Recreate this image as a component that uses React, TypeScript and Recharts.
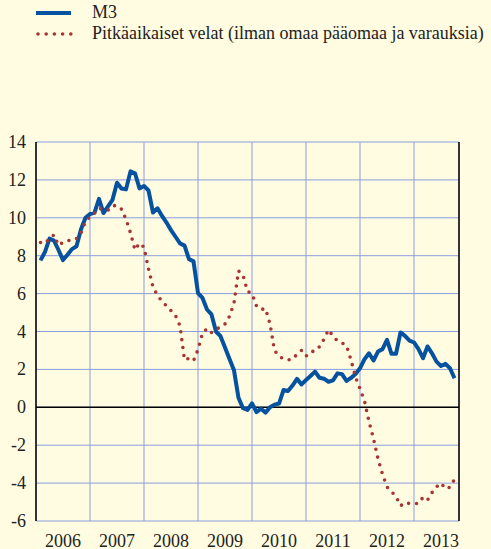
import { LineChart, Line, XAxis, YAxis, CartesianGrid, ReferenceLine } from 'recharts'

// monthly, Jan 2006 .. Sep 2013 (annual % change)
const m3Values = [
  7.75, 8.2, 8.9, 8.8, 8.3, 7.77, 8.05, 8.35, 8.5, 9.4, 10.0, 10.2,
  10.27, 11.0, 10.25, 10.6, 10.95, 11.85, 11.55, 11.5, 12.45, 12.35, 11.55, 11.68,
  11.44, 10.28, 10.5, 10.1, 9.75, 9.35, 9.0, 8.65, 8.53, 7.82, 7.7, 6.03,
  5.77, 5.16, 4.9, 4.0, 3.75, 3.15, 2.55, 1.95, 0.5, -0.05, -0.14, 0.21,
  -0.25, -0.07, -0.28, 0.0, 0.14, 0.2, 0.91, 0.86, 1.15, 1.5, 1.21, 1.44,
  1.65, 1.88, 1.56, 1.51, 1.35, 1.42, 1.79, 1.75, 1.39, 1.55, 1.76, 2.06,
  2.54, 2.85, 2.47, 2.94, 3.07, 3.56, 2.82, 2.82, 3.95, 3.77, 3.52, 3.42,
  3.07, 2.59, 3.21, 2.85, 2.41, 2.18, 2.29, 2.06, 1.53,
]

const longTermValues = [
  8.7, 8.65, 8.9, 9.1, 8.55, 8.7, 8.8, 8.8, 8.9, 9.2, 9.8, 10.05,
  10.25, 10.5, 10.45, 10.4, 10.64, 10.64, 10.45, 9.93, 9.2, 8.3, 8.66, 8.45,
  7.3, 6.35, 5.9, 5.6, 5.35, 5.1, 4.84, 4.3, 2.5, 2.58, 2.45, 3.05,
  3.9, 4.16, 3.95, 4.1, 4.25, 4.4, 4.8, 5.5, 7.2, 6.97, 6.12, 6.0,
  5.35, 5.16, 5.21, 4.4, 3.0, 2.7, 2.55, 2.5, 2.53, 2.8, 3.0, 2.7,
  2.93, 2.97, 3.2, 3.6, 4.09, 3.75, 3.5, 3.4, 3.25, 2.5, 1.6, 0.98,
  0.33, -0.75, -1.65, -2.72, -3.53, -4.2, -4.45, -4.7, -5.2, -5.03, -5.08, -5.08,
  -5.08, -4.75, -4.9, -4.5, -4.2, -4.0, -4.3, -4.22, -3.8,
]

const years = ['2006', '2007', '2008', '2009', '2010', '2011', '2012', '2013']
const yTicks = [-6, -4, -2, 0, 2, 4, 6, 8, 10, 12, 14]

const yearStarts = years.map((_, i) => i * 12)
const yearMids = years.map((_, i) => i * 12 + 6)

const data = m3Values.map((v, i) => ({
  t: i + 1,
  m3: v,
  lt: longTermValues[i],
}))

const BLUE = '#0552a0'
const RED = '#a83434'
const GRID = '#8a9ee0'
const TEXT = '#222'
const FONT = '"Liberation Serif", "Times New Roman", serif'

const textStyle = { fontFamily: FONT, fontSize: 18, fill: TEXT }

// tick mark below the axis at each year boundary
const YearMark = (p: any) => (
  <line x1={p.x} x2={p.x} y1={p.y - 5} y2={p.y} stroke="#000" strokeWidth={1.3} />
)

const YearLabel = (p: any) => (
  <text x={p.x} y={p.y} dy={25.5} textAnchor="middle" style={textStyle}>
    {years[(p.payload.value - 6) / 12]}
  </text>
)

const LeftTick = (p: any) => (
  <text x={p.x} y={p.y} dy={6} textAnchor="end" style={textStyle}>
    {p.payload.value}
  </text>
)

const RightTick = (p: any) => (
  <text x={p.x} y={p.y} dy={6} dx={p.payload.value < 0 ? -5 : 0} textAnchor="start" style={textStyle}>
    {p.payload.value}
  </text>
)

export default function App() {
  return (
    <div
      style={{
        position: 'absolute',
        left: 0,
        top: 0,
        width: 491,
        height: 549,
        background: '#fffce1',
        fontFamily: FONT,
        color: TEXT,
      }}
    >
      <div style={{ position: 'absolute', left: 36, top: 11, width: 35, height: 4, background: BLUE }} />
      <div style={{ position: 'absolute', left: 92, top: 3, fontSize: 18, lineHeight: '18px' }}>M3</div>
      <svg style={{ position: 'absolute', left: 36, top: 30 }} width={40} height={8}>
        <line x1={2} y1={4} x2={36} y2={4} stroke={RED} strokeWidth={3.6} strokeDasharray="0 8.2" strokeLinecap="round" />
      </svg>
      <div style={{ position: 'absolute', left: 92, top: 24, fontSize: 18, lineHeight: '18px', whiteSpace: 'nowrap' }}>
        Pitkäaikaiset velat (ilman omaa pääomaa ja varauksia)
      </div>

      <LineChart
        width={491}
        height={549}
        data={data}
        margin={{ top: 142, right: 0, bottom: 0, left: 0 }}
        style={{ fontFamily: FONT }}
      >
        <CartesianGrid xAxisId="main" yAxisId="left" stroke={GRID} strokeWidth={1} />
        <XAxis
          xAxisId="main"
          dataKey="t"
          type="number"
          domain={[0, 94]}
          ticks={yearStarts}
          interval={0}
          height={0}
          tick={YearMark}
          tickSize={5}
          tickMargin={0}
          tickLine={false}
          axisLine={{ stroke: '#808080', strokeWidth: 3 }}
        />
        <XAxis
          xAxisId="years"
          dataKey="t"
          type="number"
          domain={[0, 94]}
          ticks={yearMids}
          interval={0}
          height={28}
          tickLine={false}
          axisLine={false}
          tickSize={0}
          tickMargin={0}
          tick={YearLabel}
        />
        <YAxis
          yAxisId="left"
          domain={[-6, 14]}
          ticks={yTicks}
          interval={0}
          width={36}
          tickLine={false}
          tickSize={0}
          tickMargin={10}
          axisLine={{ stroke: '#000', strokeWidth: 1.5 }}
          tick={LeftTick}
        />
        <YAxis
          yAxisId="right"
          orientation="right"
          domain={[-6, 14]}
          ticks={yTicks}
          interval={0}
          width={32}
          tickLine={false}
          tickSize={0}
          tickMargin={13}
          axisLine={{ stroke: '#000', strokeWidth: 1.5 }}
          tick={RightTick}
        />
        <ReferenceLine xAxisId="main" yAxisId="left" y={0} stroke="#000" strokeWidth={1.5} />
        <Line
          xAxisId="main"
          yAxisId="left"
          type="linear"
          dataKey="m3"
          stroke={BLUE}
          strokeWidth={4}
          strokeLinejoin="round"
          dot={false}
          isAnimationActive={false}
        />
        <Line
          xAxisId="main"
          yAxisId="left"
          type="linear"
          dataKey="lt"
          stroke={RED}
          strokeWidth={3.6}
          strokeDasharray="0 8"
          strokeLinecap="round"
          dot={false}
          isAnimationActive={false}
        />
      </LineChart>
    </div>
  )
}
